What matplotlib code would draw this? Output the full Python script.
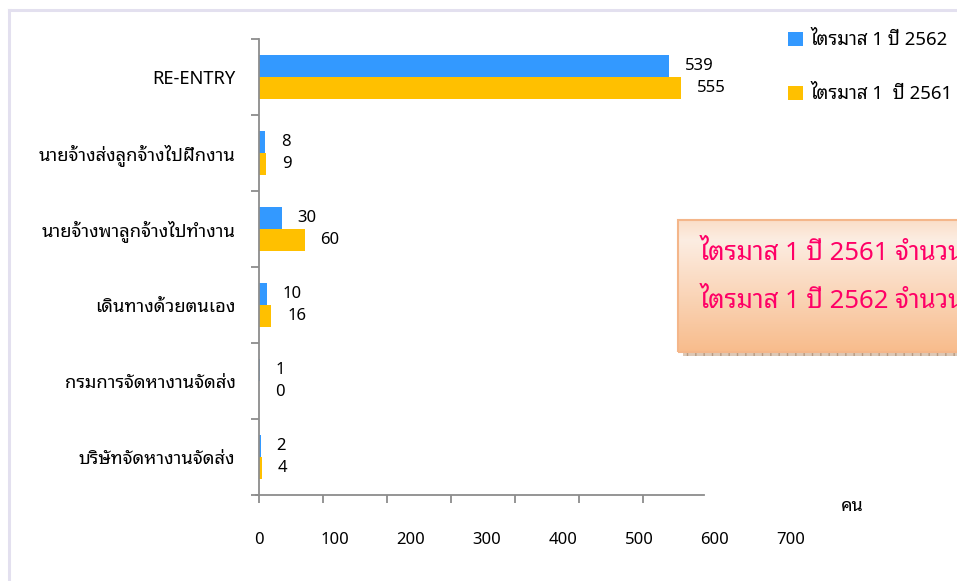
import matplotlib
matplotlib.use('Agg')
import matplotlib.pyplot as plt
import numpy as np
from matplotlib.lines import Line2D
from matplotlib.patches import Rectangle

plt.rcParams['font.family'] = ['Noto Sans Thai Looped', 'DejaVu Sans']

categories = ['RE-ENTRY', 'นายจ้างส่งลูกจ้างไปฝึกงาน', 'นายจ้างพาลูกจ้างไปทำงาน',
              'เดินทางด้วยตนเอง', 'กรมการจัดหางานจัดส่ง', 'บริษัทจัดหางานจัดส่ง']
q1_2562 = [539, 8, 30, 10, 1, 2]
q1_2561 = [555, 9, 60, 16, 0, 4]
label_2562 = 'ไตรมาส 1 ปี 2562'
label_2561 = 'ไตรมาส 1  ปี 2561'
xticks = [0, 100, 200, 300, 400, 500, 600, 700]
note_lines = ['ไตรมาส 1 ปี 2561 จำนวน 644 คน', 'ไตรมาส 1 ปี 2562 จำนวน 590 คน']

W, H = 957, 581
fs = 12
fig = plt.figure(figsize=(W / 100, H / 100), dpi=100)

ax = fig.add_axes([259 / W, 1 - 495 / H, (791 - 259) / W, (495 - 39) / H])
ax.patch.set_alpha(0)
pos = np.arange(len(categories))
h = 0.29
b1 = ax.barh(pos - h / 2, q1_2562, height=h, color='#3399ff', label=label_2562)
b2 = ax.barh(pos + h / 2, q1_2561, height=h, color='#ffc000', label=label_2561)
ax.set_xlim(0, 700)
ax.set_ylim(len(categories) - 0.5, -0.5)

for bars, vals in ((b1, q1_2562), (b2, q1_2561)):
    for bar, v in zip(bars, vals):
        ax.annotate(str(v), (v, bar.get_y() + bar.get_height() / 2),
                    xytext=(11.5, 0), textcoords='offset points',
                    ha='left', va='center', fontsize=fs)

for s in ['top', 'right']:
    ax.spines[s].set_visible(False)
gray = '#8c8c8c'
ax.spines['left'].set_color(gray)
ax.spines['bottom'].set_color(gray)
ax.spines['left'].set_linewidth(1.3)
ax.spines['bottom'].set_linewidth(1.3)
ax.spines['bottom'].set_bounds(-4, 585)
ax.xaxis.remove_overlapping_locs = False
ax.yaxis.remove_overlapping_locs = False

# tick marks sit on the category boundaries, labels in between
ax.set_yticks(np.arange(-0.5, len(categories), 1.0))
ax.set_yticklabels([])
ax.set_yticks(pos, minor=True)
ax.set_yticklabels(categories, minor=True, fontsize=13.2)
ax.tick_params(axis='y', which='major', length=6, width=1.3, color=gray)
ax.tick_params(axis='y', which='minor', length=0, pad=17)

ax.set_xticks(np.arange(0, 586, 84.3))
ax.set_xticklabels([])
ax.set_xticks(xticks, minor=True)
ax.set_xticklabels([str(t) for t in xticks], minor=True, fontsize=fs)
ax.tick_params(axis='x', which='major', length=6, width=1.3, color=gray)
ax.tick_params(axis='x', which='minor', length=0, pad=27)

fig.text(852 / W, 1 - 506 / H, 'คน', fontsize=13, ha='center', va='center')

fig.legend(handles=[b1, b2], labels=[label_2562, label_2561], loc='upper left',
           bbox_to_anchor=(788 / W, 1 - 31 / H), frameon=False,
           handlelength=0.8, handleheight=0.8, handletextpad=0.4,
           labelspacing=1.95, borderaxespad=0, borderpad=0, fontsize=13.4)

# note box with gradient fill
bx0, by0, bx1, by1 = 678, 220, 960, 352
bax = fig.add_axes([bx0 / W, 1 - by1 / H, (bx1 - bx0) / W, (by1 - by0) / H])
t = np.linspace(0, 1, 200)[:, None]
top = np.array([250, 222, 200]) / 255
light = np.array([252, 237, 226]) / 255
bottom = np.array([248, 188, 140]) / 255
grad = np.where(t < 0.15, top + (light - top) * (t / 0.15),
                light + (bottom - light) * ((t - 0.15) / 0.85))
bax.imshow(grad[:, None, :].repeat(2, axis=1), aspect='auto', extent=[0, 1, 0, 1])
bax.set_xlim(0, 1)
bax.set_ylim(0, 1)
bax.axis('off')
fig.add_artist(Rectangle((bx0 / W, 1 - by1 / H), (bx1 - bx0) / W, (by1 - by0) / H,
                         transform=fig.transFigure, fill=False, edgecolor='#f4b68a', lw=1.5, zorder=2))
fig.add_artist(Rectangle(((bx0 + 5) / W, 1 - (by1 + 4) / H), (bx1 - bx0) / W, 3 / H,
                         transform=fig.transFigure, facecolor='#dcc8b6', edgecolor='#b89a80',
                         lw=0, hatch='||', zorder=1))
for i, line in enumerate(note_lines):
    fig.text(700 / W, 1 - (253 + 48 * i) / H, line, fontsize=18.5, color='#ff0066',
             ha='left', va='center')

# outer frame
fc = '#e3e0ef'
fig.add_artist(Line2D([8.5 / W, 8.5 / W], [0, 1 - 9.5 / H], transform=fig.transFigure, color=fc, lw=2.2))
fig.add_artist(Line2D([8.5 / W, 1], [1 - 9.5 / H, 1 - 9.5 / H], transform=fig.transFigure, color=fc, lw=2.2))

fig.savefig('out.png', dpi=100)
